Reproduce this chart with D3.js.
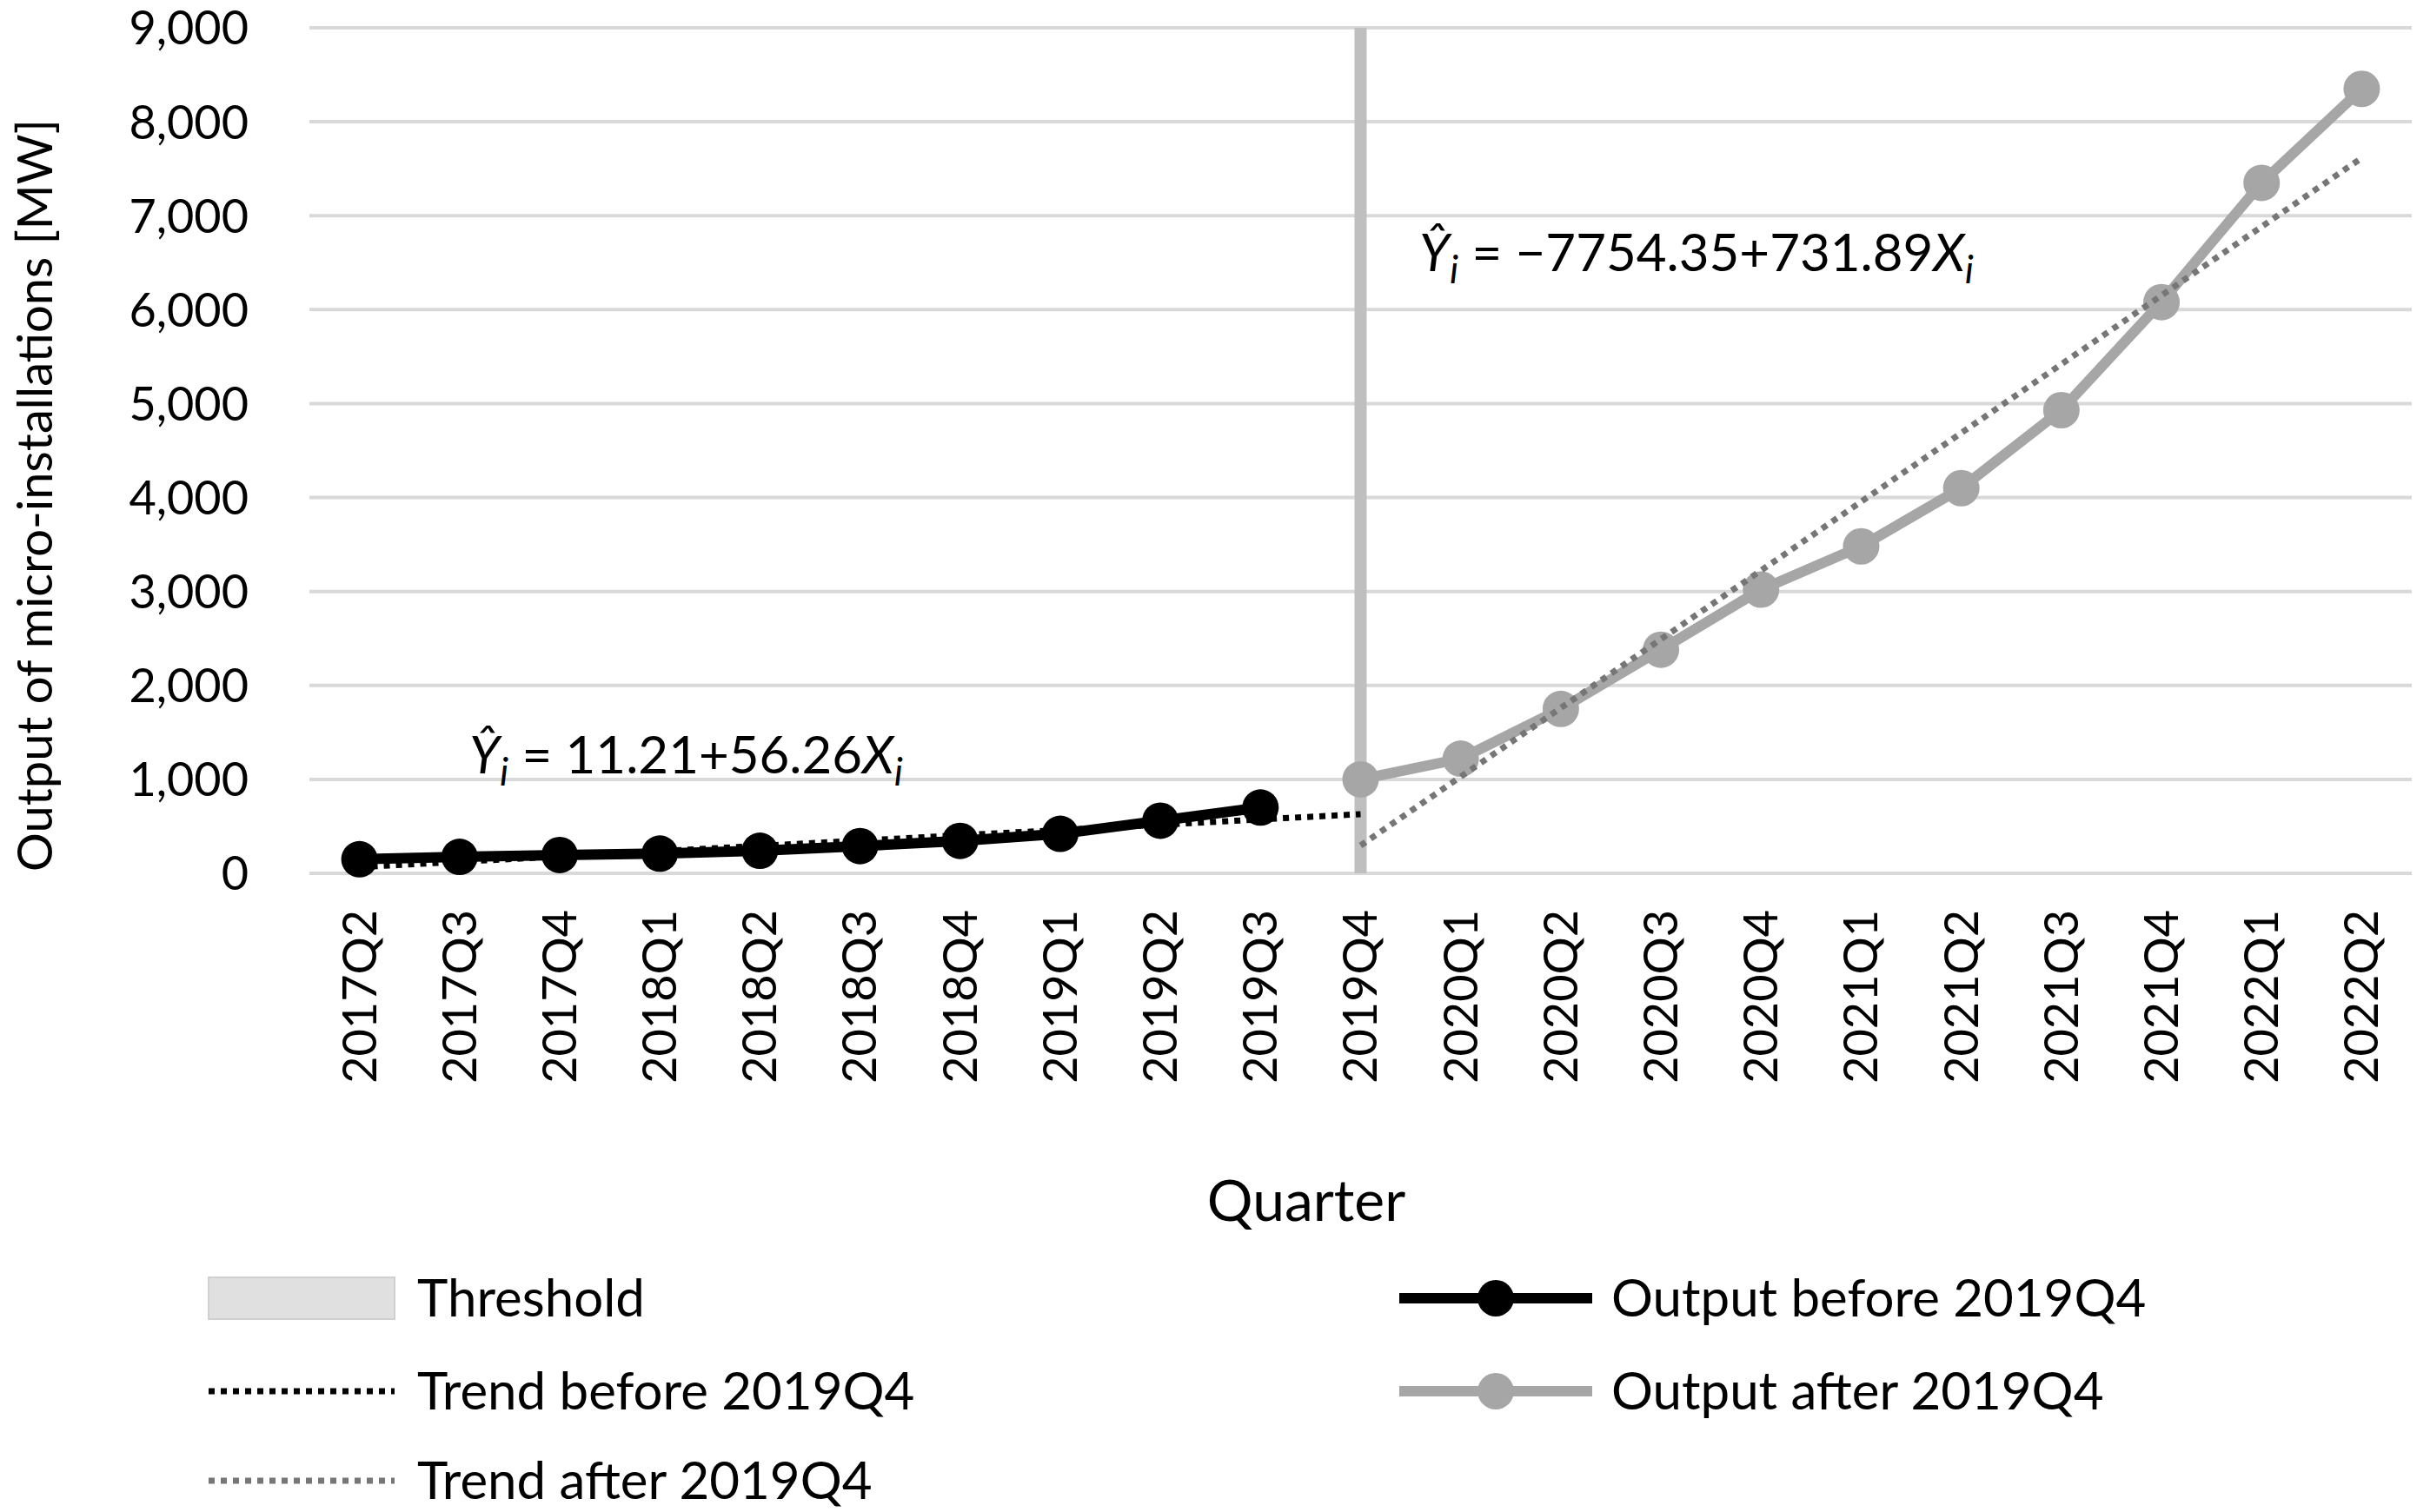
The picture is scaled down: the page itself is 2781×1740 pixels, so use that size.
<!DOCTYPE html>
<html><head><meta charset="utf-8">
<script src="https://cdn.jsdelivr.net/npm/d3@7"></script>
<style>body{margin:0;background:#fff}text{font-family:Lato,"Open Sans",sans-serif}</style>
</head><body>
<svg id="chart" width="2781" height="1740"></svg>
<script>
// Data
const quarters = ["2017Q2","2017Q3","2017Q4","2018Q1","2018Q2","2018Q3","2018Q4","2019Q1","2019Q2","2019Q3",
  "2019Q4","2020Q1","2020Q2","2020Q3","2020Q4","2021Q1","2021Q2","2021Q3","2021Q4","2022Q1","2022Q2"];
const beforeQ = quarters.slice(0, 10);
const beforeVals = [150, 175, 195, 210, 240, 290, 345, 420, 560, 700];
const afterQ = quarters.slice(10);
const afterVals = [1000, 1220, 1750, 2380, 3020, 3480, 4100, 4930, 6080, 7350, 8350];
const trendBefore = [{q: "2017Q2", v: 67}, {q: "2019Q4", v: 630}];
const trendAfter = [{q: "2019Q4", v: 296}, {q: "2022Q2", v: 7615}];
const thresholdQ = "2019Q4";
const yTicks = [0,1000,2000,3000,4000,5000,6000,7000,8000,9000];

const svg = d3.select("#chart");
const mLeft = 356, mRight = 2775, mTop = 32, mBottom = 1005;

const x = d3.scaleBand().domain(quarters).range([mLeft, mRight]).padding(0);
const cx = q => x(q) + x.bandwidth() / 2;
const y = d3.scaleLinear().domain([0, 9000]).range([mBottom, mTop]);

// Gridlines
svg.append("g").selectAll("line").data(yTicks).enter().append("line")
  .attr("x1", mLeft).attr("x2", mRight)
  .attr("y1", d => y(d)).attr("y2", d => y(d))
  .attr("stroke", "#d9d9d9").attr("stroke-width", 4);

// Y axis labels
const yAxis = svg.append("g").attr("transform", `translate(${mLeft - 70},0)`)
  .call(d3.axisLeft(y).tickValues(yTicks).tickSize(0).tickPadding(0));
yAxis.select(".domain").remove();
yAxis.selectAll("text").attr("font-size", 54).attr("fill", "#000")
  .attr("font-family", "Lato,sans-serif").attr("dy", "0.35em");

// X axis labels
const xAxis = svg.append("g").attr("transform", `translate(0,${mBottom})`)
  .call(d3.axisBottom(x).tickSize(0).tickPadding(0));
xAxis.select(".domain").remove();
xAxis.selectAll("text").attr("font-size", 54).attr("fill", "#000")
  .attr("font-family", "Lato,sans-serif")
  .attr("text-anchor", "end").attr("dy", "0.35em")
  .attr("transform", "translate(0,42) rotate(-90)");

// Axis titles
svg.append("text").attr("x", 1503).attr("y", 1405).attr("text-anchor", "middle")
  .attr("font-size", 66).text("Quarter");
svg.append("text").attr("transform", "translate(60,570) rotate(-90)").attr("text-anchor", "middle")
  .attr("font-size", 56).text("Output of micro-installations [MW]");

// Threshold
svg.append("line").attr("x1", cx(thresholdQ)).attr("x2", cx(thresholdQ))
  .attr("y1", mTop).attr("y2", mBottom).attr("stroke", "#bfbfbf").attr("stroke-width", 14);

const line = d3.line().x(d => cx(d.q)).y(d => y(d.v));
const before = beforeQ.map((q, i) => ({q, v: beforeVals[i]}));
const after = afterQ.map((q, i) => ({q, v: afterVals[i]}));

// Output lines
svg.append("path").datum(after).attr("d", line).attr("fill", "none")
  .attr("stroke", "#a6a6a6").attr("stroke-width", 12).attr("stroke-linejoin", "round");
svg.append("g").selectAll("circle").data(after).enter().append("circle")
  .attr("cx", d => cx(d.q)).attr("cy", d => y(d.v)).attr("r", 21).attr("fill", "#a6a6a6");

// Trend lines
svg.append("path").datum(trendAfter).attr("d", line).attr("fill", "none")
  .attr("stroke", "#767676").attr("stroke-width", 7).attr("stroke-dasharray", "7,7");
svg.append("path").datum(before).attr("d", line).attr("fill", "none")
  .attr("stroke", "#000").attr("stroke-width", 12).attr("stroke-linejoin", "round");
svg.append("g").selectAll("circle").data(before).enter().append("circle")
  .attr("cx", d => cx(d.q)).attr("cy", d => y(d.v)).attr("r", 21).attr("fill", "#000");
svg.append("path").datum(trendBefore).attr("d", line).attr("fill", "none")
  .attr("stroke", "#000").attr("stroke-width", 7).attr("stroke-dasharray", "7,7");

// Equations
function equation(xp, yp, body) {
  const t = svg.append("text").attr("x", xp).attr("y", yp)
    .attr("font-family", "'DejaVu Serif','Liberation Serif',serif").attr("font-size", 60);
  t.append("tspan").attr("font-style", "italic").text("Ŷ");
  t.append("tspan").attr("font-style", "italic").attr("font-size", 44).attr("dy", 14).text("i");
  t.append("tspan").attr("dy", -14).text(body);
  t.append("tspan").attr("font-style", "italic").text("X");
  t.append("tspan").attr("font-style", "italic").attr("font-size", 44).attr("dy", 14).text("i");
}
equation(540, 890, " = 11.21+56.26");
equation(1633, 312, " = −7754.35+731.89");

// Legend
const legend = [
  {x: 240, y: 1494, label: "Threshold", type: "rect"},
  {x: 240, y: 1601, label: "Trend before 2019Q4", type: "dot", color: "#000"},
  {x: 240, y: 1704, label: "Trend  after 2019Q4", type: "dot", color: "#767676"},
  {x: 1610, y: 1494, label: "Output before 2019Q4", type: "line", color: "#000"},
  {x: 1610, y: 1601, label: "Output after 2019Q4", type: "line", color: "#a6a6a6"}
];
const lg = svg.append("g").selectAll("g").data(legend).enter().append("g")
  .attr("transform", d => `translate(${d.x},${d.y})`);
lg.filter(d => d.type === "rect").append("rect")
  .attr("x", 0).attr("y", -24).attr("width", 214).attr("height", 48)
  .attr("fill", "#e0e0e0").attr("stroke", "#d0d0d0").attr("stroke-width", 2);
lg.filter(d => d.type === "dot").append("line")
  .attr("x1", 0).attr("x2", 214).attr("stroke", d => d.color)
  .attr("stroke-width", 7).attr("stroke-dasharray", "7,7");
lg.filter(d => d.type === "line").append("line")
  .attr("x1", 0).attr("x2", 222).attr("stroke", d => d.color).attr("stroke-width", 12);
lg.filter(d => d.type === "line").append("circle")
  .attr("cx", 111).attr("r", 21).attr("fill", d => d.color);
lg.append("text").attr("x", d => d.type === "line" ? 244 : 240).attr("dy", "0.35em")
  .attr("font-size", 60).text(d => d.label);
</script>
</body></html>
